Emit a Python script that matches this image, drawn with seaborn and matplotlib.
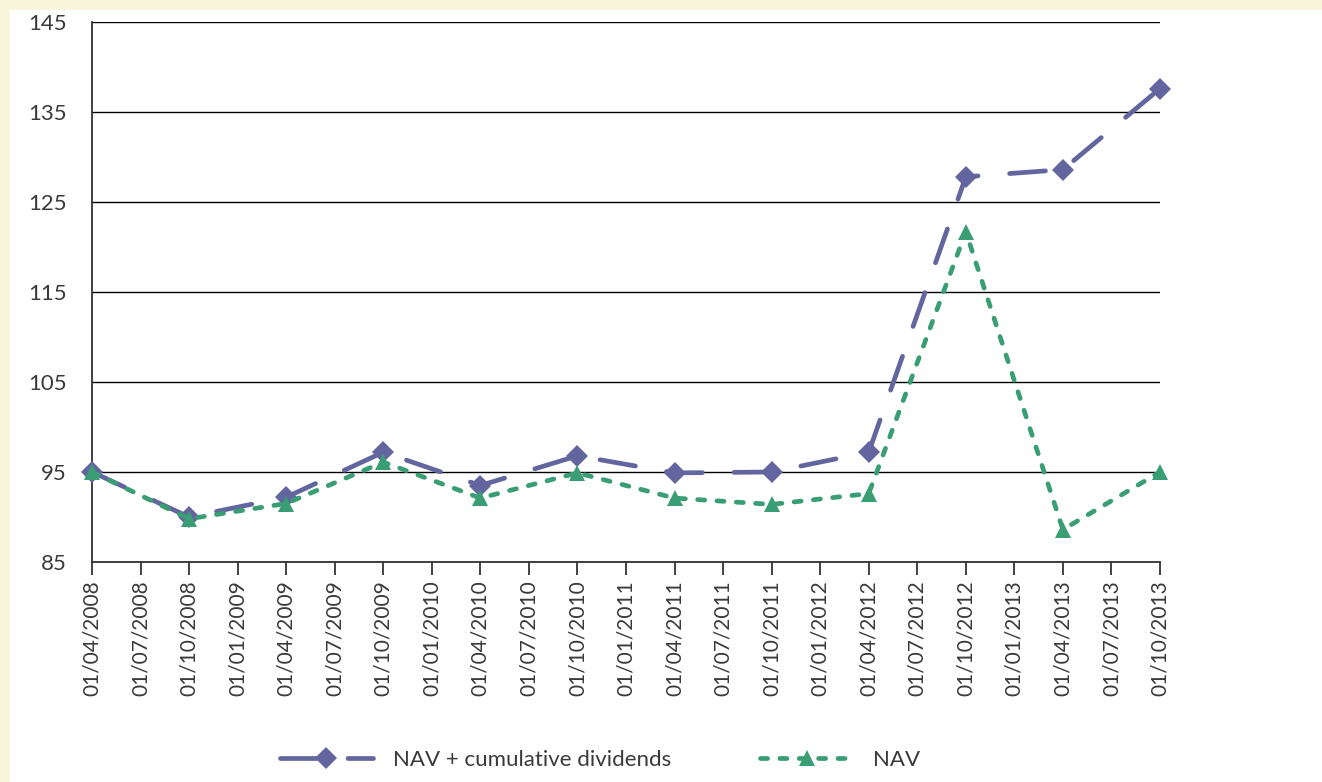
import numpy as np
import pandas as pd
import seaborn as sns
import matplotlib
matplotlib.use("Agg")
import matplotlib.pyplot as plt
from matplotlib.patches import Rectangle

# ---- data ----
tick_labels = ["01/04/2008", "01/07/2008", "01/10/2008", "01/01/2009", "01/04/2009",
               "01/07/2009", "01/10/2009", "01/01/2010", "01/04/2010", "01/07/2010",
               "01/10/2010", "01/01/2011", "01/04/2011", "01/07/2011", "01/10/2011",
               "01/01/2012", "01/04/2012", "01/07/2012", "01/10/2012", "01/01/2013",
               "01/04/2013", "01/07/2013", "01/10/2013"]
obs_dates = ["01/04/2008", "01/10/2008", "01/04/2009", "01/10/2009", "01/04/2010",
             "01/10/2010", "01/04/2011", "01/10/2011", "01/04/2012", "01/10/2012",
             "01/04/2013", "01/10/2013"]
nav_cum_div = [95.0, 90.0, 92.2, 97.2, 93.5, 96.8, 94.9, 95.0, 97.2, 127.8, 128.6, 137.6]
nav = [95.0, 89.8, 91.5, 96.1, 92.1, 94.9, 92.1, 91.4, 92.6, 121.7, 88.6, 95.0]
series_names = ["NAV + cumulative dividends", "NAV"]
y_ticks = [85, 95, 105, 115, 125, 135, 145]

pos = [tick_labels.index(d) for d in obs_dates]
df = pd.DataFrame({"pos": pos * 2,
                   "value": nav_cum_div + nav,
                   "series": [series_names[0]] * len(pos) + [series_names[1]] * len(pos)})

sns.set_theme(style="white")
plt.rcParams['font.family'] = ['Lato', 'DejaVu Sans']

W, H = 1322, 782
fig = plt.figure(figsize=(W / 100, H / 100), dpi=100, facecolor="white")
bg = "#F8F6DA"
fig.patches.append(Rectangle((0, 1 - 10 / H), 1, 10 / H, transform=fig.transFigure,
                             facecolor=bg, edgecolor="none", zorder=0))
fig.patches.append(Rectangle((0, 0), 10 / W, 1, transform=fig.transFigure,
                             facecolor=bg, edgecolor="none", zorder=0))

ax = fig.add_axes([92 / W, 1 - 562 / H, (1160 - 92) / W, (562 - 22) / H])
ax.set_facecolor("white")

purple = "#63669E"
green = "#3A9E74"
text_col = "#3a3a3a"

sns.lineplot(data=df[df.series == series_names[0]], x="pos", y="value", ax=ax,
             color=purple, lw=3.4, marker="D", markersize=11, markeredgewidth=0,
             label=series_names[0], legend=False)
sns.lineplot(data=df[df.series == series_names[1]], x="pos", y="value", ax=ax,
             color=green, lw=3.4, marker="^", markersize=11, markeredgewidth=0,
             label=series_names[1], legend=False)

lines = ax.get_lines()
lines[0].set_dashes((7.6, 6.7))
lines[0].set_dash_capstyle("round")
lines[0].set_solid_capstyle("round")
lines[1].set_dashes((1.5, 2.6))
lines[1].set_dash_capstyle("round")
for ln in lines:
    ln.set_clip_on(False)
    ln.set_zorder(5)

ax.set_xlim(0, len(tick_labels) - 1)
ax.set_ylim(85, 145)
ax.set_xticks(range(len(tick_labels)))
ax.set_xticklabels(tick_labels, rotation=90, fontsize=15, color=text_col)
ax.set_yticks(y_ticks)
ax.set_yticklabels([str(v) for v in y_ticks], fontsize=16, color=text_col)
ax.set_xlabel("")
ax.set_ylabel("")

ax.tick_params(axis="x", which="major", bottom=True, length=9, width=1.3,
               color="#333333", pad=4, direction="out")
ax.tick_params(axis="y", left=False, pad=12)
ax.yaxis.grid(True, color="black", lw=1)
ax.xaxis.grid(False)
for s in ["top", "right"]:
    ax.spines[s].set_visible(False)
for s in ["left", "bottom"]:
    ax.spines[s].set_color("#333333")
    ax.spines[s].set_linewidth(1.3)

handles, labels = ax.get_legend_handles_labels()
leg = fig.legend(handles, labels, loc="center", bbox_to_anchor=(600 / W, 1 - 760 / H),
                 ncol=2, frameon=False, fontsize=16, handlelength=4.2,
                 columnspacing=4.0, handletextpad=0.9)
for t in leg.get_texts():
    t.set_color(text_col)

fig.savefig("out.png", dpi=100, facecolor=fig.get_facecolor())
